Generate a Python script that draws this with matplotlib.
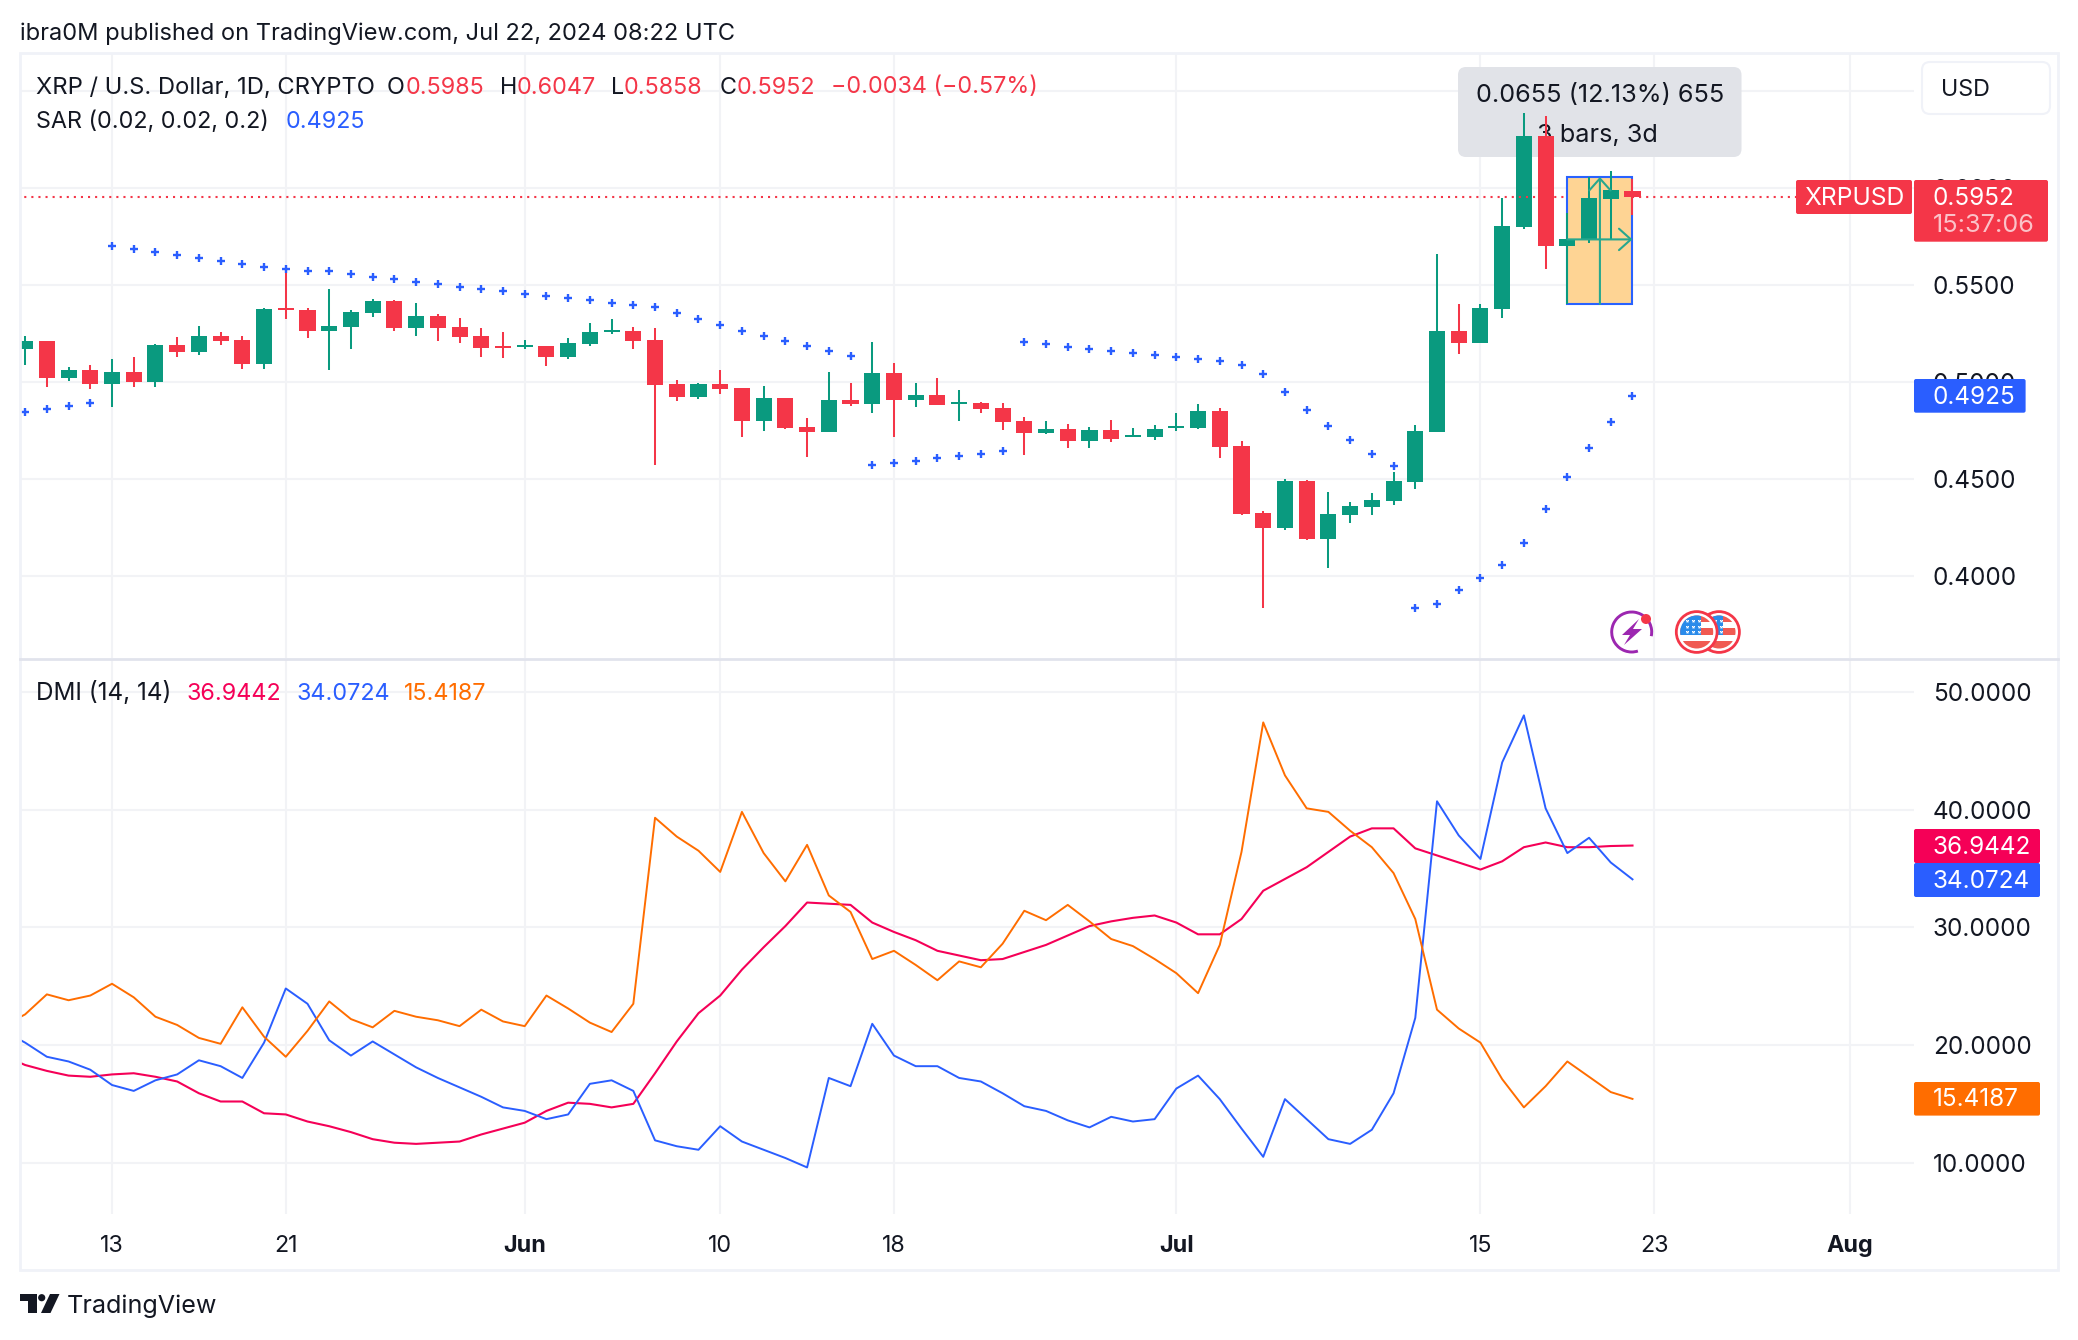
import numpy as np
import matplotlib
matplotlib.use("Agg")
import matplotlib.pyplot as plt
from matplotlib.patches import Rectangle, FancyBboxPatch, Circle, Arc, Polygon

plt.rcParams['font.family'] = ['Inter', 'DejaVu Sans']

W, H = 2078, 1340

# Daily bars, May 9 to Jul 22 2024
opens = [.5168,.5210,.5019,.5060,.4988,.5050,.4998,.5189,.5153,.5235,.5215,.5091,.5380,.5369,.5261,.5282,.5354,.5416,.5277,.5338,.5282,.5235,.5184,.5179,.5184,.5127,.5194,.5256,.5261,.5215,
         .4988,.4921,.4988,.4967,.4797,.4916,.4766,.4741,.4906,.4885,.5045,.4906,.4931,.4885,.4890,.4864,.4797,.4735,.4756,.4694,.4751,.4715,.4715,.4761,.4761,.4849,.4668,.4323,.4246,.4488,.4189,.4313,
         .4355,.4386,.4484,.4742,.5263,.5201,.5372,.5795,.6264,.5697,.5733,.5939,.5985]
highs = [.5235,.5210,.5076,.5086,.5117,.5127,.5194,.5230,.5287,.5256,.5235,.5380,.5576,.5380,.5478,.5369,.5426,.5421,.5405,.5349,.5328,.5277,.5256,.5215,.5184,.5225,.5302,.5323,.5282,.5277,
         .5009,.4993,.5060,.4967,.4978,.4916,.4813,.5050,.4993,.5204,.5096,.4993,.5019,.4957,.4895,.4890,.4818,.4797,.4782,.4766,.4802,.4761,.4777,.4839,.4885,.4864,.4694,.4333,.4498,.4493,.4431,.4380,
         .4427,.4536,.4778,.5660,.5402,.5402,.5949,.6383,.6367,.5867,.6053,.6084,.6047]
lows = [.5086,.4973,.5003,.4962,.4869,.4973,.4973,.5127,.5137,.5189,.5065,.5065,.5323,.5225,.5060,.5168,.5333,.5261,.5235,.5210,.5199,.5127,.5122,.5168,.5081,.5117,.5184,.5246,.5168,.4571,
        .4900,.4911,.4936,.4715,.4746,.4756,.4612,.4741,.4875,.4839,.4715,.4869,.4880,.4797,.4839,.4751,.4622,.4730,.4658,.4658,.4689,.4715,.4699,.4746,.4756,.4607,.4313,.3833,.4235,.4184,.4040,.4272,
        .4314,.4365,.4448,.4742,.5144,.5201,.5330,.5789,.5583,.5402,.5712,.5733,.5858]
closes = [.5210,.5019,.5060,.4988,.5050,.4998,.5189,.5153,.5235,.5210,.5091,.5375,.5369,.5261,.5287,.5359,.5416,.5277,.5338,.5277,.5230,.5174,.5174,.5189,.5127,.5199,.5256,.5266,.5210,.4983,
          .4921,.4988,.4962,.4797,.4916,.4761,.4741,.4906,.4885,.5045,.4906,.4931,.4880,.4895,.4859,.4792,.4735,.4756,.4694,.4751,.4705,.4725,.4756,.4772,.4849,.4663,.4318,.4246,.4488,.4189,.4318,.4359,
          .4391,.4489,.4747,.5263,.5201,.5377,.5800,.6264,.5697,.5733,.5944,.5987,.5952]
sar = [.4844,.4859,.4875,.4890,
       .5701,.5685,.5670,.5655,.5639,.5624,.5608,.5593,.5579,.5570,.5570,.5555,.5539,.5529,.5514,.5503,.5488,.5478,.5467,.5452,.5442,.5431,.5421,.5405,.5395,.5385,.5354,.5323,.5292,.5261,.5235,.5210,.5184,.5158,.5132,
       .4571,.4581,.4591,.4607,.4617,.4627,.4643,
       .5204,.5194,.5179,.5168,.5158,.5148,.5137,.5127,.5117,.5106,.5086,.5040,.4947,.4854,.4772,.4701,.4628,.4567,
       .3831,.3851,.3923,.3990,.4056,.4169,.4344,.4508,.4657,.4791,.4925]

# DMI lines start one day earlier, cut by the left edge
dmi_pink = [19.1,18.3,17.8,17.4,17.3,17.5,17.6,17.3,16.9,15.9,15.2,15.2,14.2,14.1,13.5,13.1,12.6,12.0,11.7,11.6,11.7,11.8,12.4,12.9,13.4,14.4,15.1,15.0,14.7,15.0,17.6,20.3,22.7,24.2,26.4,28.3,30.1,32.1,32.0,31.9,30.4,29.6,28.9,28.0,27.6,27.2,27.3,27.9,28.5,29.3,30.1,30.5,30.8,31.0,30.4,29.4,29.4,30.7,33.1,34.1,35.1,36.4,37.7,38.4,38.4,36.7,36.1,35.5,34.9,35.6,36.8,37.2,36.8,36.8,36.9,36.94]
dmi_blue = [21.2,20.2,19.0,18.6,17.9,16.6,16.1,17.0,17.5,18.7,18.2,17.2,20.2,24.8,23.5,20.4,19.1,20.3,19.2,18.1,17.2,16.4,15.6,14.7,14.4,13.7,14.1,16.7,17.0,16.1,11.9,11.4,11.1,13.1,11.8,11.1,10.4,9.6,17.2,16.5,21.8,19.1,18.2,18.2,17.2,16.9,15.9,14.8,14.4,13.6,13.0,13.9,13.5,13.7,16.3,17.4,15.4,12.9,10.5,15.4,13.7,12.0,11.6,12.8,15.9,22.3,40.7,37.8,35.8,44.0,48.0,40.1,36.3,37.6,35.5,34.07]
dmi_orange = [21.6,22.6,24.3,23.8,24.2,25.2,24.05,22.4,21.7,20.6,20.1,23.2,20.7,19.0,21.2,23.7,22.2,21.5,22.9,22.4,22.1,21.6,23.0,22.0,21.6,24.2,23.1,21.9,21.1,23.5,39.3,37.7,36.5,34.7,39.8,36.3,33.9,37.0,32.7,31.3,27.3,28.0,26.8,25.5,27.1,26.6,28.6,31.4,30.6,31.9,30.5,29.0,28.4,27.3,26.1,24.4,28.5,36.4,47.4,42.9,40.1,39.8,38.2,36.8,34.6,30.7,23.0,21.4,20.2,17.1,14.7,16.5,18.6,17.3,16.0,15.42]

tick_days = [4, 12, 23, 32, 40, 53, 67, 75, 84]
tick_labels = ['13', '21', 'Jun', '10', '18', 'Jul', '15', '23', 'Aug']
price_ticks = [0.40, 0.45, 0.50, 0.55, 0.60, 0.65]
dmi_ticks = [10, 20, 30, 40, 50]

GREEN = '#0A9A7F'
RED = '#F43648'
BLUE = '#2A5EFF'
PINK = '#F50057'
ORANGE = '#FF6D00'
GRID = '#F2F3F6'
INK = '#131722'
FS = 16.8
FS_AXIS = 17.5


def pane(top, bottom):
    a = fig.add_axes([20 / W, 1 - bottom / H, (1914 - 20) / W, (bottom - top) / H])
    for s in a.spines.values():
        s.set_visible(False)
    a.set_xlim(-0.236, 86.96)
    a.set_xticks(tick_days)
    a.grid(True, color=GRID, lw=1.5)
    a.set_axisbelow(True)
    a.yaxis.tick_right()
    return a


fig = plt.figure(figsize=(W / 100, H / 100), dpi=100, facecolor='white')

over = fig.add_axes([0, 0, 1, 1], zorder=10)
over.set_xlim(0, W)
over.set_ylim(H, 0)
over.axis('off')

ax1 = pane(53, 658)
ax2 = pane(660, 1213.7)

# Price pane
days = np.arange(len(closes))
o, h, l, c = map(np.array, (opens, highs, lows, closes))
colors = [GREEN if a >= b else RED for a, b in zip(c, o)]
ax1.vlines(days, l, h, colors=colors, lw=1.45, zorder=3)
ax1.bar(days, np.abs(c - o), bottom=np.minimum(o, c), width=0.74, color=colors, zorder=3)
ax1.plot(days, sar, ls='none', marker='+', ms=5.2, mew=1.7, color=BLUE, zorder=5)
ax1.set_ylim(0.3575, 0.6694)
ax1.set_yticks(price_ticks)
ax1.set_yticklabels(['%.4f' % p for p in price_ticks], color=INK, fontsize=FS_AXIS)
ax1.tick_params(length=0, labelbottom=False, pad=13.5)

# last price line, hidden behind the measure box
last = closes[-1]
ax1.plot([-1, 71], [last, last], ls=(0, (1, 2.4)), lw=1.5, color=RED, zorder=3.5)
ax1.plot([74, 81.6], [last, last], ls=(0, (1, 2.4)), lw=1.5, color=RED, zorder=3.5)

# measure tool
box_low, box_high = 0.5400, 0.6055
ax1.add_patch(Rectangle((71, box_low), 3, box_high - box_low, fc='#FED494', ec='#2962FF', lw=1.5, zorder=2))
arrow = dict(arrowstyle='->,head_length=8.6,head_width=7.7', color='#27A78E', lw=1.5, shrinkA=0, shrinkB=0, mutation_scale=1)
ax1.annotate('', xy=(72.5, box_high), xytext=(72.5, box_low), arrowprops=arrow, zorder=4)
ax1.annotate('', xy=(74, 0.5733), xytext=(71, 0.5733), arrowprops=arrow, zorder=4)

# tooltip sits under the candles
ax1.add_patch(FancyBboxPatch((1458, 67), 283.5, 90, boxstyle='round,pad=0,rounding_size=8', fc='#E1E3E8', ec='none',
                             transform=over.transData, clip_on=False, zorder=1.5))
ax1.text(1600, 95.5, '0.0655 (12.13%) 655', transform=over.transData, ha='center', va='center', fontsize=18.2, color=INK, zorder=1.6)
ax1.text(1597, 135.5, '3 bars, 3d', transform=over.transData, ha='center', va='center', fontsize=18.2, color=INK, zorder=1.6)

# DMI pane
dmi_days = np.arange(-1, len(closes))
ax2.plot(dmi_days, dmi_pink, color=PINK, lw=1.5, zorder=3)
ax2.plot(dmi_days, dmi_blue, color=BLUE, lw=1.4, zorder=4)
ax2.plot(dmi_days, dmi_orange, color=ORANGE, lw=1.4, zorder=5)
ax2.set_ylim(5.67, 52.7)
ax2.set_yticks(dmi_ticks)
ax2.set_yticklabels(['%.4f' % v for v in dmi_ticks], color=INK, fontsize=FS_AXIS)
ax2.set_xticklabels(tick_labels, color=INK, fontsize=FS)
for t in ax2.get_xticklabels():
    if t.get_text() in ('Jun', 'Jul', 'Aug'):
        t.set_fontweight('bold')
ax2.tick_params(length=0, pad=13.5)
ax2.tick_params(axis='x', pad=15.6)


def txt(x, y, s, color=INK, size=FS, ha='left', **kw):
    over.text(x, y + 2, s, color=color, fontsize=size, ha=ha, va='center', **kw)


def tag(x0, x1, y0, y1, color):
    over.add_patch(FancyBboxPatch((x0, y0), x1 - x0, y1 - y0, boxstyle='round,pad=0,rounding_size=2', fc=color, ec='none'))


# Frame and pane divider
over.add_patch(Rectangle((20, 53), 2038, 1217, fc='none', ec='#F0F2F8', lw=2))
over.plot([20, 2058], [659, 659], color='#E1E3EC', lw=2)

# Header and legends
txt(20, 32, 'ibra0M published on TradingView.com, Jul 22, 2024 08:22 UTC', size=17.0)
txt(36, 85.5, 'XRP / U.S. Dollar, 1D, CRYPTO', size=17.1)
for x, s, col in [(387, 'O', INK), (406, '0.5985', RED), (500.5, 'H', INK), (517, '0.6047', RED),
                  (611, 'L', INK), (624, '0.5858', RED), (720, 'C', INK), (737, '0.5952', RED),
                  (831, '\u22120.0034 (\u22120.57%)', RED)]:
    txt(x, 85.5, s, color=col)
txt(36, 120, 'SAR (0.02, 0.02, 0.2)')
txt(285.5, 120, '0.4925', color=BLUE)
txt(36.5, 691.5, 'DMI (14, 14)', size=17.5)
txt(186.5, 691.5, '36.9442', color=PINK)
txt(297, 691.5, '34.0724', color=BLUE)
txt(404, 691.5, '15.4187', color=ORANGE)

# USD box
over.add_patch(FancyBboxPatch((1922, 62), 128, 52, boxstyle='round,pad=0,rounding_size=8', fc='white', ec='#F0F2F8', lw=1.5))
txt(1941, 88.5, 'USD')

# Scale labels
tag(1796, 1912, 180, 214, RED)
txt(1854, 196.5, 'XRPUSD', color='white', ha='center', size=17.8)
tag(1914, 2048, 180, 241.7, RED)
txt(1933, 196.5, '0.5952', color='white', size=FS_AXIS)
txt(1933, 223, '15:37:06', color='#FBC2C8', size=18.2)
tag(1914, 2025.6, 379, 412.7, BLUE)
txt(1933, 395.5, '0.4925', color='white', size=FS_AXIS)
tag(1914, 2040, 829, 863, PINK)
txt(1933, 845, '36.9442', color='white', size=FS_AXIS)
tag(1914, 2040, 863, 897, BLUE)
txt(1933, 879, '34.0724', color='white', size=FS_AXIS)
tag(1914, 2040, 1082, 1115.6, ORANGE)
txt(1933, 1098, '15.4187', color='white', size=FS_AXIS)

# Event icons
over.add_patch(Arc((1631.7, 632), 40, 40, theta1=72, theta2=372, color='#9C27B0', lw=2.1))
over.add_patch(Polygon([(1639, 619), (1622, 635), (1630, 635), (1624, 645), (1642, 629), (1633, 629)], fc='#9C27B0', ec='none'))
over.add_patch(Circle((1646, 619), 5, fc=RED, ec='none'))


def flag(cx, cy, z):
    over.add_patch(Circle((cx, cy), 20.4, fc='white', ec=RED, lw=2, zorder=z))
    inner = Circle((cx, cy), 16.5, transform=over.transData)
    for y0, y1 in [(-17, -10), (-4, 3), (9, 17)]:
        r = Rectangle((cx - 17, cy + y0), 34, y1 - y0, fc='#F05A52', ec='none', zorder=z + 0.1)
        over.add_patch(r)
        r.set_clip_path(inner)
    r = Rectangle((cx - 17, cy - 17), 21, 20, fc='#2A8BEA', ec='none', zorder=z + 0.2)
    over.add_patch(r)
    r.set_clip_path(inner)
    pts = over.plot([cx + dx for dx in (-10, -4, 2) for _ in range(3)],
                    [cy + dy for _ in range(3) for dy in (-11, -5.5, 0)],
                    ls='none', marker='*', ms=2.6, mew=0, color='white', zorder=z + 0.3)[0]
    pts.set_clip_path(inner)


flag(1719, 632, 5)
flag(1696.7, 632, 6)

# TradingView logo
over.add_patch(Polygon([(20, 1294), (36.7, 1294), (36.7, 1313), (28.3, 1313), (28.3, 1300.5), (20, 1300.5)], fc=INK, ec='none'))
over.add_patch(Circle((41.7, 1297.7), 3.6, fc=INK, ec='none'))
over.add_patch(Polygon([(50, 1294), (59.5, 1294), (50.5, 1313), (41, 1313)], fc=INK, ec='none'))
txt(66.5, 1304.5, 'TradingView', size=18.1)

fig.savefig('out.png', dpi=100)
